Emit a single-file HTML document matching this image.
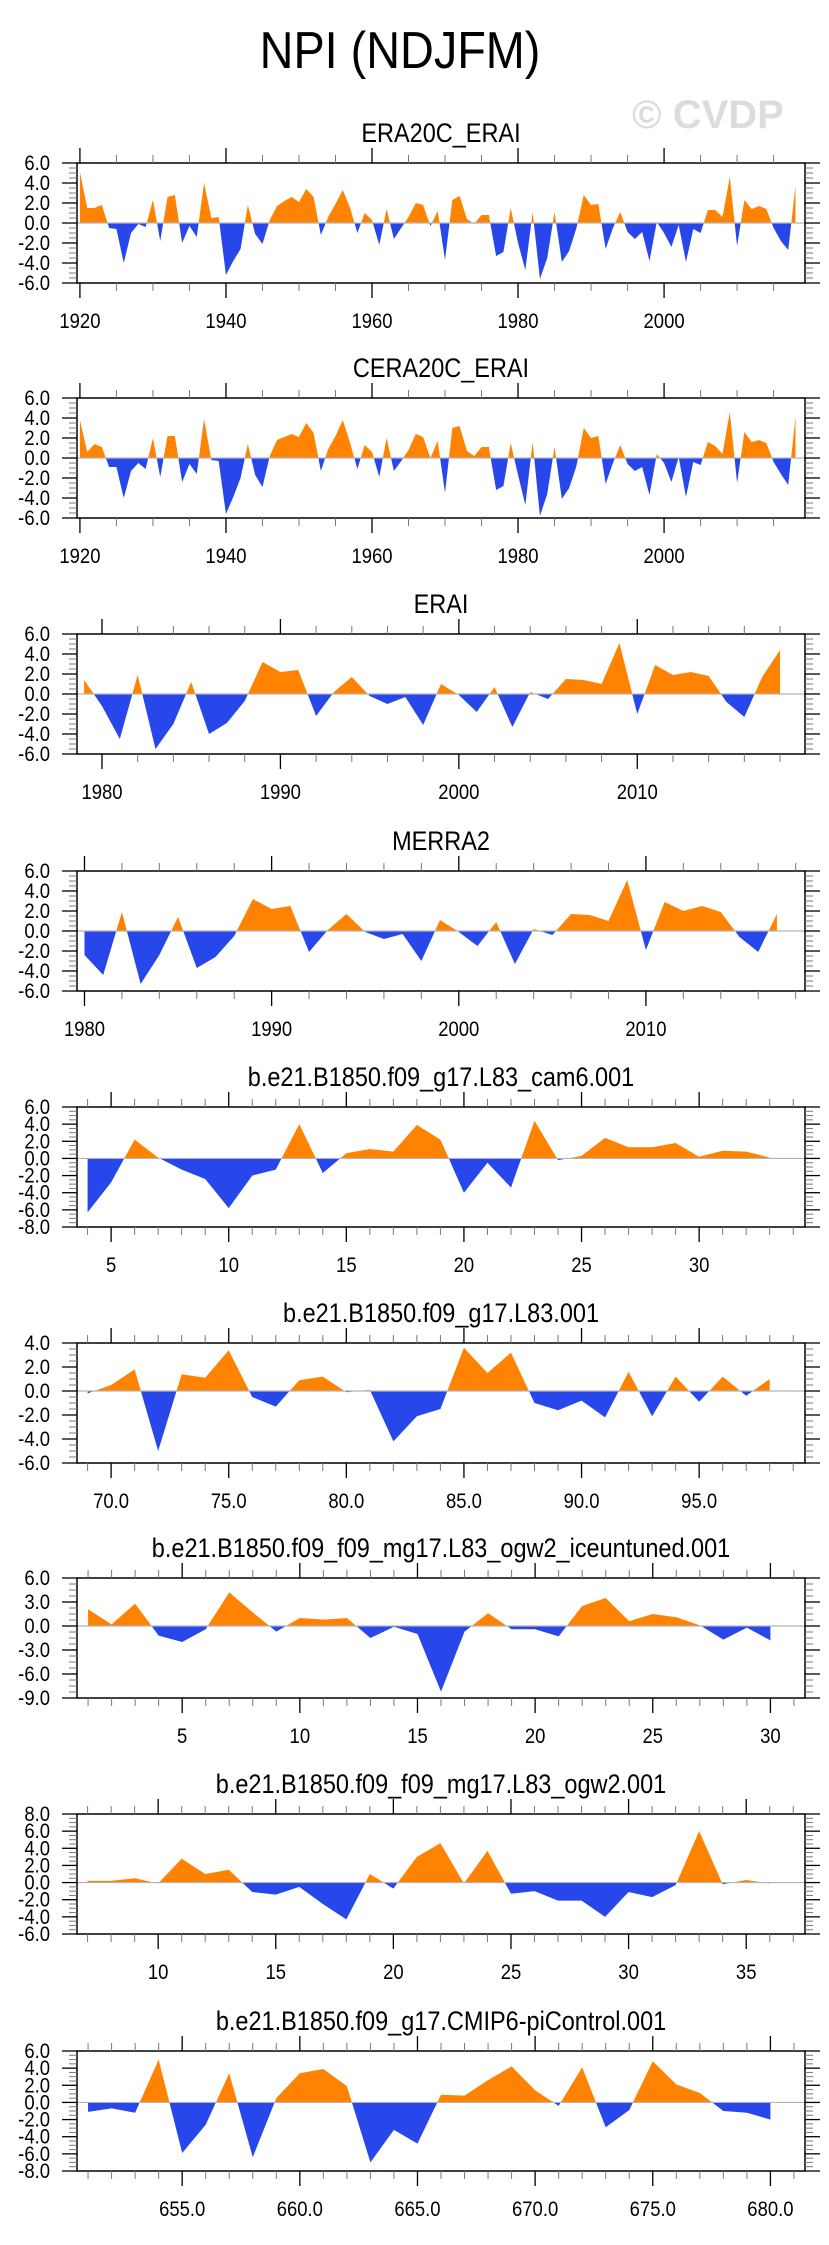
<!DOCTYPE html>
<html><head><meta charset="utf-8"><style>
html,body{margin:0;padding:0;background:#fff;}
svg{display:block;font-family:"Liberation Sans",Arial,sans-serif;}
</style></head><body>
<svg id="fig" width="829" height="2245" viewBox="0 0 829 2245" xmlns="http://www.w3.org/2000/svg">
<text transform="translate(400,68) scale(0.9,1)" font-size="52" text-anchor="middle" fill="#000">NPI (NDJFM)</text>
<text x="708" y="128" font-size="40" font-weight="bold" text-anchor="middle" fill="#dcdcdc">© CVDP</text>
</svg>
<script>
const era20cYears0 = 1920;
const era20cValues = [5.1,1.5,1.5,1.8,-0.5,-0.6,-4.0,-1.0,-0.1,-0.4,2.3,-1.8,2.6,2.8,-2.0,-0.3,-1.4,4.0,0.5,0.6,-5.2,-3.8,-2.6,1.8,-1.1,-2.1,0.3,1.7,2.2,2.6,2.1,3.4,2.6,-1.2,0.6,1.9,3.3,1.5,-1.0,1.0,0.3,-2.2,1.4,-1.6,-0.5,0.6,2.0,1.8,-0.3,1.2,-3.7,2.3,2.7,0.4,-0.1,0.8,0.8,-3.3,-2.9,1.5,-2.0,-4.7,1.1,-5.6,-3.5,1.1,-3.9,-2.8,-0.5,2.8,1.8,1.9,-2.6,-0.5,1.1,-0.9,-1.6,-0.9,-3.8,0.1,-1.0,-2.4,-0.2,-3.9,-0.6,-1.0,1.3,1.3,0.6,4.6,-2.3,2.3,1.4,1.7,1.4,-0.5,-1.8,-2.7,3.7];
const cera20cValues = [3.8,0.6,1.4,1.1,-0.9,-0.9,-4.0,-1.3,-0.5,-1.1,2.0,-1.9,2.2,2.2,-2.4,-0.6,-1.6,3.9,-0.2,-0.3,-5.6,-3.9,-2.0,1.4,-1.7,-2.9,0.2,1.8,2.1,2.4,2.1,3.5,2.5,-1.3,0.9,2.2,3.8,1.5,-1.1,1.3,0.6,-1.9,2.0,-1.3,-0.3,0.8,2.4,2.1,0.0,1.7,-3.5,3.0,3.2,0.7,0.2,1.1,1.1,-3.2,-2.8,1.5,-1.7,-4.7,1.6,-5.8,-3.6,1.1,-4.1,-3.0,-0.8,3.0,2.0,2.2,-2.6,-0.5,1.3,-0.6,-1.3,-0.9,-3.7,0.4,-0.5,-2.4,0.1,-3.9,-0.4,-0.7,1.6,1.2,0.4,4.6,-2.5,2.6,1.6,1.8,1.5,-0.4,-1.6,-2.7,4.1];
const eraiStart = 1979;
const eraiValues = [1.4,-1.2,-4.5,1.9,-5.5,-3.0,1.2,-4.0,-2.9,-0.7,3.2,2.2,2.4,-2.2,0.2,1.7,-0.2,-1.0,-0.3,-3.1,1.0,-0.1,-1.8,0.7,-3.3,0.2,-0.5,1.5,1.4,1.0,5.1,-2.0,2.9,1.9,2.2,1.8,-0.8,-2.3,1.7,4.4];
const merraStart = 1980;
const merraValues = [-2.4,-4.4,1.9,-5.3,-2.4,1.4,-3.7,-2.6,-0.5,3.2,2.2,2.5,-2.1,0.1,1.7,-0.1,-0.8,-0.3,-3.0,1.1,-0.1,-1.5,0.9,-3.3,0.2,-0.4,1.7,1.6,1.0,5.1,-1.9,2.9,2.0,2.5,1.9,-0.6,-2.1,1.7];
const cam6Start = 4;
const cam6Values = [-6.3,-2.8,2.2,0.1,-1.3,-2.4,-5.8,-2.0,-1.3,4.0,-1.7,0.6,1.1,0.8,3.9,2.2,-4.0,-0.5,-3.4,4.4,-0.2,0.3,2.4,1.3,1.3,1.8,0.2,0.9,0.8,0.1];
const l83Start = 69;
const l83Values = [-0.2,0.5,1.8,-5.0,1.4,1.1,3.4,-0.5,-1.3,0.9,1.2,-0.1,0.1,-4.2,-2.1,-1.5,3.6,1.5,3.2,-1.0,-1.6,-0.8,-2.2,1.6,-2.1,1.2,-0.9,1.2,-0.4,1.0];
const iceStart = 1;
const iceValues = [2.1,0.2,2.8,-1.2,-2.0,-0.4,4.2,1.7,-0.7,1.0,0.8,1.0,-1.5,-0.1,-1.0,-8.2,-0.7,1.6,-0.4,-0.4,-1.3,2.5,3.5,0.6,1.5,1.1,0.1,-1.7,-0.2,-1.8];
const ogwStart = 7;
const ogwValues = [0.2,0.2,0.5,-0.1,2.8,1.0,1.5,-1.1,-1.4,-0.5,-2.5,-4.3,1.0,-0.7,3.0,4.6,-0.1,3.7,-1.3,-1.0,-2.1,-2.1,-4.0,-1.1,-1.7,-0.3,6.0,-0.2,0.3,-0.1];
const piStart = 651;
const piValues = [-1.1,-0.7,-1.2,5.0,-5.9,-2.6,3.4,-6.4,0.5,3.4,3.9,1.9,-7.0,-3.2,-4.8,0.9,0.8,2.6,4.2,1.4,-0.4,4.1,-2.9,-0.9,4.8,2.1,1.1,-1.0,-1.2,-2.0];
const panelTitles = ["ERA20C_ERAI","CERA20C_ERAI","ERAI","MERRA2","b.e21.B1850.f09_g17.L83_cam6.001","b.e21.B1850.f09_g17.L83.001","b.e21.B1850.f09_f09_mg17.L83_ogw2_iceuntuned.001","b.e21.B1850.f09_f09_mg17.L83_ogw2.001","b.e21.B1850.f09_g17.CMIP6-piControl.001"];

const NS = "http://www.w3.org/2000/svg";
const svg = document.getElementById('fig');
const L = 77, R = 805;
function mk(tag, attrs, parent){ const e = document.createElementNS(NS, tag); for (const k in attrs) e.setAttribute(k, attrs[k]); (parent||svg).appendChild(e); return e; }

const panels = [
 {slug:'era20c', start:era20cYears0, vals:era20cValues, top:163, ymin:-6, ymax:6, ystep:2, yminor:0.5, xmin:1919.6, xmax:2019.3, xmaj:20, xminor:5, fmt:v=>String(v)},
 {slug:'cera20c', start:era20cYears0, vals:cera20cValues, top:398, ymin:-6, ymax:6, ystep:2, yminor:0.5, xmin:1919.6, xmax:2019.3, xmaj:20, xminor:5, fmt:v=>String(v)},
 {slug:'erai', start:eraiStart, vals:eraiValues, top:634, ymin:-6, ymax:6, ystep:2, yminor:0.5, xmin:1978.6, xmax:2019.4, xmaj:10, xminor:2, fmt:v=>String(v)},
 {slug:'merra2', start:merraStart, vals:merraValues, top:871, ymin:-6, ymax:6, ystep:2, yminor:0.5, xmin:1979.6, xmax:2018.5, xmaj:10, xminor:2, fmt:v=>String(v)},
 {slug:'cam6', start:cam6Start, vals:cam6Values, top:1107, ymin:-8, ymax:6, ystep:2, yminor:0.5, xmin:3.55, xmax:34.5, xmaj:5, xminor:1, fmt:v=>String(v)},
 {slug:'l83', start:l83Start, vals:l83Values, top:1343, ymin:-6, ymax:4, ystep:2, yminor:0.5, xmin:68.55, xmax:99.5, xmaj:5, xminor:1, fmt:v=>v.toFixed(1)},
 {slug:'iceuntuned', start:iceStart, vals:iceValues, top:1578, ymin:-9, ymax:6, ystep:3, yminor:0.75, xmin:0.53, xmax:31.47, xmaj:5, xminor:1, fmt:v=>String(v)},
 {slug:'ogw2', start:ogwStart, vals:ogwValues, top:1814, ymin:-6, ymax:8, ystep:2, yminor:0.5, xmin:6.55, xmax:37.5, xmaj:5, xminor:1, fmt:v=>String(v)},
 {slug:'picontrol', start:piStart, vals:piValues, top:2051, ymin:-8, ymax:6, ystep:2, yminor:0.5, xmin:650.53, xmax:681.47, xmaj:5, xminor:1, fmt:v=>v.toFixed(1)}
];

panels.forEach((p, pi) => {
  const T = p.top, B = p.top + 120;
  const sx = v => L + (v - p.xmin) / (p.xmax - p.xmin) * (R - L);
  const sy = v => B - (v - p.ymin) / (p.ymax - p.ymin) * (B - T);
  const g = mk('g', {});
  
  
  const title = mk('text', {transform:'translate(' + (L+R)/2 + ',' + (T-21) + ') scale(0.87,1)', 'font-size':27, 'text-anchor':'middle', fill:'#000'}, g);
  
  
  title.textContent = panelTitles[pi];
  const cid = 'c' + pi;
  const defs = mk('defs', {}, g);
  const cpA = mk('clipPath', {id:cid+'a'}, defs); mk('rect', {x:L, y:T, width:R-L, height:sy(0)-T}, cpA);
  const cpB = mk('clipPath', {id:cid+'b'}, defs); mk('rect', {x:L, y:sy(0), width:R-L, height:B-sy(0)}, cpB);
  let d = 'M' + sx(p.start) + ',' + sy(0);
  p.vals.forEach((v, i) => { d += ' L' + sx(p.start + i).toFixed(2) + ',' + sy(v).toFixed(2); });
  d += ' L' + sx(p.start + p.vals.length - 1) + ',' + sy(0) + ' Z';
  const pos = mk('path', {d:d, fill:'#ff8300', 'clip-path':'url(#'+cid+'a)'}, g);
  
  
  const neg = mk('path', {d:d, fill:'#2747ea', 'clip-path':'url(#'+cid+'b)'}, g);
  
  
  const zl = mk('line', {x1:L, x2:R, y1:sy(0), y2:sy(0), stroke:'#b4b4b4', 'stroke-width':1.2}, g);
  
  
  const fr = mk('rect', {x:L, y:T, width:R-L, height:B-T, fill:'none', stroke:'#000', 'stroke-width':1.5}, g);
  
  
  const eps = 1e-6;
  for (let v = p.ymin; v <= p.ymax + eps; v += p.yminor) {
    const maj = Math.abs(Math.round(v / p.ystep) * p.ystep - v) < eps;
    const len = maj ? 15 : 8, y = sy(v);
    mk('line', {x1:L-len, x2:L, y1:y, y2:y, stroke: maj?'#000':'#777', 'stroke-width':maj?1.3:1}, g);
    mk('line', {x1:R, x2:R+len, y1:y, y2:y, stroke: maj?'#000':'#777', 'stroke-width':maj?1.3:1}, g);
    if (maj) {
      const t = mk('text', {transform:'translate(50,' + (y+7) + ') scale(0.88,1)', 'font-size':21, 'text-anchor':'end', fill:'#000'}, g);
      
      
      t.textContent = v.toFixed(1);
    }
  }
  const first = Math.ceil(p.xmin / p.xminor) * p.xminor;
  for (let v = first; v <= p.xmax + eps; v += p.xminor) {
    const maj = Math.abs(Math.round(v / p.xmaj) * p.xmaj - v) < eps;
    const len = maj ? 15 : 8, x = sx(v);
    mk('line', {x1:x, x2:x, y1:T-len, y2:T, stroke: maj?'#000':'#777', 'stroke-width':maj?1.3:1}, g);
    mk('line', {x1:x, x2:x, y1:B, y2:B+len, stroke: maj?'#000':'#777', 'stroke-width':maj?1.3:1}, g);
    if (maj) {
      const t = mk('text', {transform:'translate(' + x + ',' + (B+45) + ') scale(0.88,1)', 'font-size':21, 'text-anchor':'middle', fill:'#000'}, g);
      
      
      t.textContent = p.fmt(Math.round(v));
    }
  }
});
</script>
</body></html>
